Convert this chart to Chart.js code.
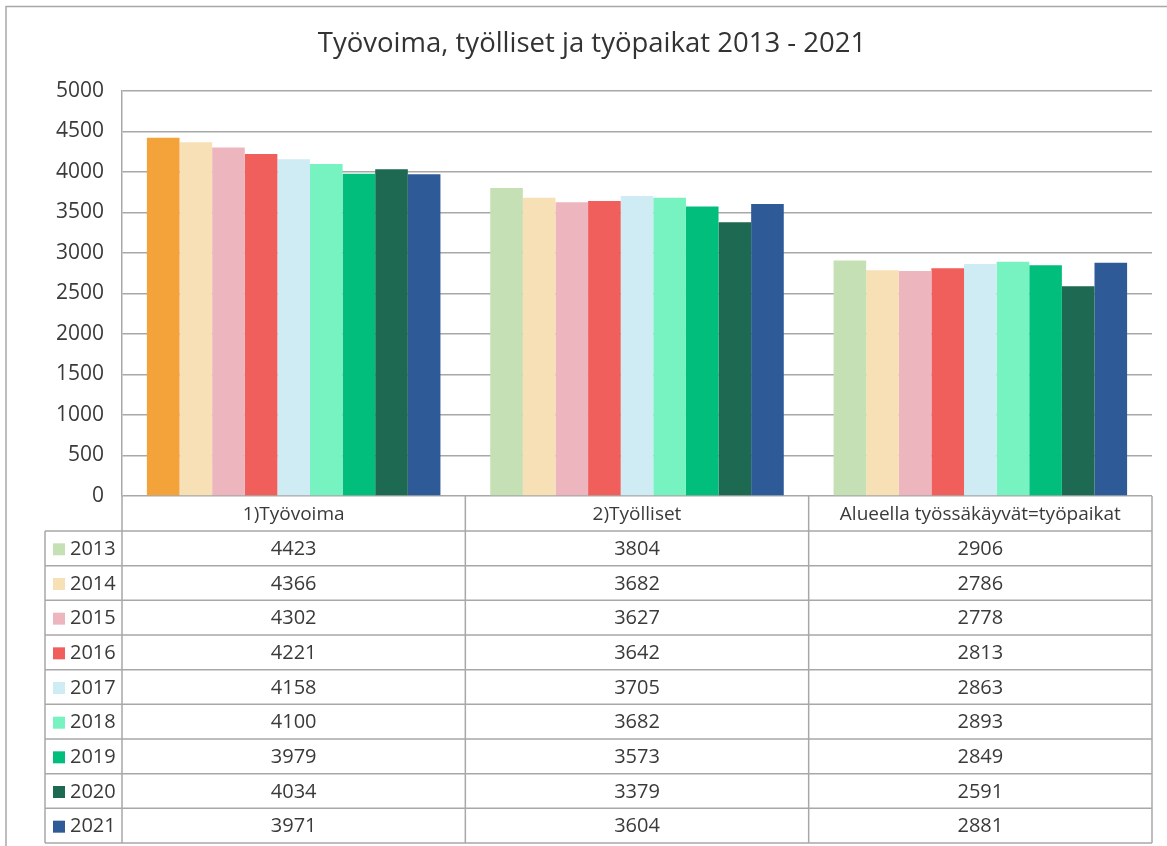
<!DOCTYPE html>
<html>
<head>
<meta charset="utf-8">
<script src="https://cdn.jsdelivr.net/npm/chart.js@4.4.1/dist/chart.umd.min.js"></script>
<style>
  html, body { margin: 0; padding: 0; background: #fff; }
  #wrap { position: relative; width: 1167px; height: 846px; }
</style>
</head>
<body>
<div id="wrap"><canvas id="c" width="1167" height="846"></canvas></div>
<script>
const TITLE = 'Työvoima, työlliset ja työpaikat 2013 - 2021';
const categories = ['1)Työvoima', '2)Työlliset', 'Alueella työssäkäyvät=työpaikat'];
const years = ['2013', '2014', '2015', '2016', '2017', '2018', '2019', '2020', '2021'];
const v2013 = [4423, 3804, 2906];
const v2014 = [4366, 3682, 2786];
const v2015 = [4302, 3627, 2778];
const v2016 = [4221, 3642, 2813];
const v2017 = [4158, 3705, 2863];
const v2018 = [4100, 3682, 2893];
const v2019 = [3979, 3573, 2849];
const v2020 = [4034, 3379, 2591];
const v2021 = [3971, 3604, 2881];
const yTicks = [0, 500, 1000, 1500, 2000, 2500, 3000, 3500, 4000, 4500, 5000];

const seriesValues = [v2013, v2014, v2015, v2016, v2017, v2018, v2019, v2020, v2021];
const colors = ['#C5E0B4', '#F7E0B5', '#EDB6BF', '#F05F5B', '#CFEBF3', '#77F2C1', '#02BE7D', '#1D6952', '#2F5A98'];
// first bar of the 2013 series is highlighted orange in the original
const barColors = colors.map((c, i) => i === 0 ? ['#F4A23A', c, c] : c);

const FONT = '"Open Sans", "Noto Sans", sans-serif';
const TEXT = '#3a3a3a';
const LINE = '#A8A8A8';

const tablePlugin = {
  id: 'dataTable',
  afterDraw(chart) {
    const ctx = chart.ctx;
    const x = chart.scales.x;
    const ca = chart.chartArea;
    const left = ca.left, right = ca.right;
    const colW = (right - left) / categories.length;
    const top = ca.bottom;
    const headerH = 35;
    const bottom = 843;
    const rowH = (bottom - top - headerH) / years.length;
    const legendLeft = 45;
    ctx.save();
    ctx.strokeStyle = LINE;
    ctx.lineWidth = 1.5;
    // outer frame
    ctx.beginPath();
    ctx.moveTo(6, 846); ctx.lineTo(6, 6.5); ctx.lineTo(1167, 6.5);
    ctx.stroke();
    // vertical lines
    ctx.beginPath();
    for (let i = 0; i <= categories.length; i++) {
      const xx = left + i * colW;
      ctx.moveTo(xx, top); ctx.lineTo(xx, bottom);
    }
    ctx.moveTo(legendLeft, top + headerH); ctx.lineTo(legendLeft, bottom);
    // horizontal lines
    for (let r = 0; r <= years.length; r++) {
      const yy = top + headerH + r * rowH;
      ctx.moveTo(legendLeft, yy); ctx.lineTo(right, yy);
    }
    ctx.stroke();
    // header text
    ctx.fillStyle = TEXT;
    ctx.font = '19px ' + FONT;
    ctx.textAlign = 'center';
    ctx.textBaseline = 'middle';
    categories.forEach((c, i) => {
      ctx.fillText(c, x.getPixelForValue(i), top + headerH / 2 + 1);
    });
    // rows
    years.forEach((yr, r) => {
      const cy = top + headerH + r * rowH + rowH / 2 + 1;
      ctx.fillStyle = colors[r];
      ctx.fillRect(53, cy - 6, 12, 12);
      ctx.fillStyle = TEXT;
      ctx.textAlign = 'left';
      ctx.font = '20px ' + FONT;
      ctx.fillText(yr, 70, cy);
      ctx.textAlign = 'center';
      seriesValues[r].forEach((v, i) => {
        ctx.fillText(String(v), x.getPixelForValue(i), cy);
      });
    });
    ctx.restore();
  }
};

new Chart(document.getElementById('c'), {
  type: 'bar',
  data: {
    labels: categories,
    datasets: years.map((yr, i) => ({
      label: yr,
      data: seriesValues[i],
      backgroundColor: barColors[i],
      borderWidth: 0,
      barPercentage: 1.0,
      categoryPercentage: 0.855
    }))
  },
  options: {
    responsive: false,
    animation: false,
    devicePixelRatio: 1,
    layout: { padding: { left: 32, right: 15, top: 0, bottom: 350 } },
    plugins: {
      legend: { display: false },
      tooltip: { enabled: false },
      title: {
        display: true,
        text: TITLE,
        color: '#333333',
        font: { family: FONT, size: 27.5, weight: 'normal' },
        padding: { top: 28, bottom: 30 }
      }
    },
    scales: {
      x: { display: false },
      y: {
        min: 0,
        max: 5000,
        afterBuildTicks(scale) { scale.ticks = yTicks.map(v => ({ value: v })); },
        afterFit(scale) { scale.width = 90; },
        border: { display: true, color: LINE, width: 1.5 },
        grid: { color: LINE, lineWidth: 1.5, drawTicks: false },
        ticks: {
          padding: 18,
          color: TEXT,
          font: { family: FONT, size: 21 },
          callback: (v) => String(v)
        }
      }
    }
  },
  plugins: [tablePlugin]
});
</script>
</body>
</html>
